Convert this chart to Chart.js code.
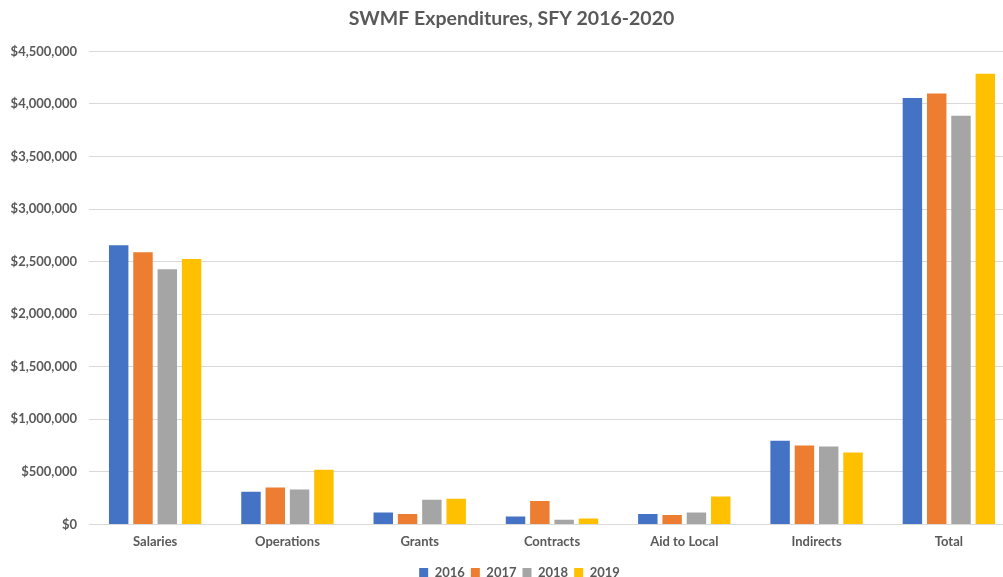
<!DOCTYPE html>
<html>
<head>
<meta charset="utf-8">
<script src="https://cdn.jsdelivr.net/npm/chart.js@4/dist/chart.umd.min.js"></script>
<style>
html,body{margin:0;padding:0;background:#fff;overflow:hidden;width:1003px;height:577px;}
#wrap{width:1015px;height:577px;position:relative;}
</style>
</head>
<body>
<div id="wrap"><canvas id="c" width="1015" height="577"></canvas></div>
<script>
const categories = ["Salaries","Operations","Grants","Contracts","Aid to Local","Indirects","Total"];
const seriesNames = ["2016","2017","2018","2019"];
const values2016 = [2655000, 311000, 114000, 76000, 100000, 795000, 4056000];
const values2017 = [2588000, 352000, 100000, 222000, 89000, 751000, 4100000];
const values2018 = [2427000, 333000, 235000, 44000, 114000, 741000, 3888000];
const values2019 = [2525000, 520000, 244000, 57000, 266000, 684000, 4287000];
const colors = ["#4472C4","#ED7D31","#A5A5A5","#FFC000"];
const yTicks = [0,500000,1000000,1500000,2000000,2500000,3000000,3500000,4000000,4500000];

const font = "Lato, 'Open Sans', sans-serif";
const allValues = [values2016, values2017, values2018, values2019];

const shiftBlocks = {
  id: 'shiftBlocks',
  afterLayout(chart) {
    if (chart.titleBlock) { chart.titleBlock.left += 4; chart.titleBlock.right += 4; }
    if (chart.legend) { chart.legend.left += 12; chart.legend.right += 12; }
  }
};

new Chart(document.getElementById('c'), {
  type: 'bar',
  data: {
    labels: categories,
    datasets: allValues.map((v,i)=>({
      label: seriesNames[i],
      data: v,
      backgroundColor: colors[i],
      borderWidth: 0,
      categoryPercentage: 0.735,
      barPercentage: 0.8
    }))
  },
  plugins: [shiftBlocks],
  options: {
    responsive: false,
    animation: false,
    devicePixelRatio: 1,
    layout: { padding: { left: 0, right: 0, top: 0, bottom: -12 } },
    plugins: {
      title: {
        display: true,
        text: 'SWMF Expenditures, SFY 2016-2020',
        color: '#595959',
        font: { family: font, size: 19.5, weight: 'bold' },
        padding: { top: 7, bottom: 21 }
      },
      legend: {
        position: 'bottom',
        labels: {
          color: '#595959',
          font: { family: font, size: 13, weight: 'bold' },
          boxWidth: 9,
          boxHeight: 9,
          padding: 6
        }
      },
      tooltip: { enabled: false }
    },
    scales: {
      x: {
        grid: { display: false, drawTicks: false },
        border: { color: '#D9D9D9', width: 1 },
        ticks: {
          color: '#595959',
          font: { family: font, size: 13, weight: 'bold' },
          padding: 10
        }
      },
      y: {
        min: 0,
        max: 4500000,
        afterFit: (s) => { s.width = 89; },
        afterBuildTicks: (s) => { s.ticks = yTicks.map(v => ({ value: v })); },
        grid: { color: '#D9D9D9', lineWidth: 1, drawTicks: false },
        border: { display: false },
        ticks: {
          color: '#595959',
          font: { family: font, size: 13, weight: 'bold' },
          padding: 12,
          callback: (v) => '$' + Number(v).toLocaleString('en-US')
        }
      }
    }
  }
});
</script>
</body>
</html>
